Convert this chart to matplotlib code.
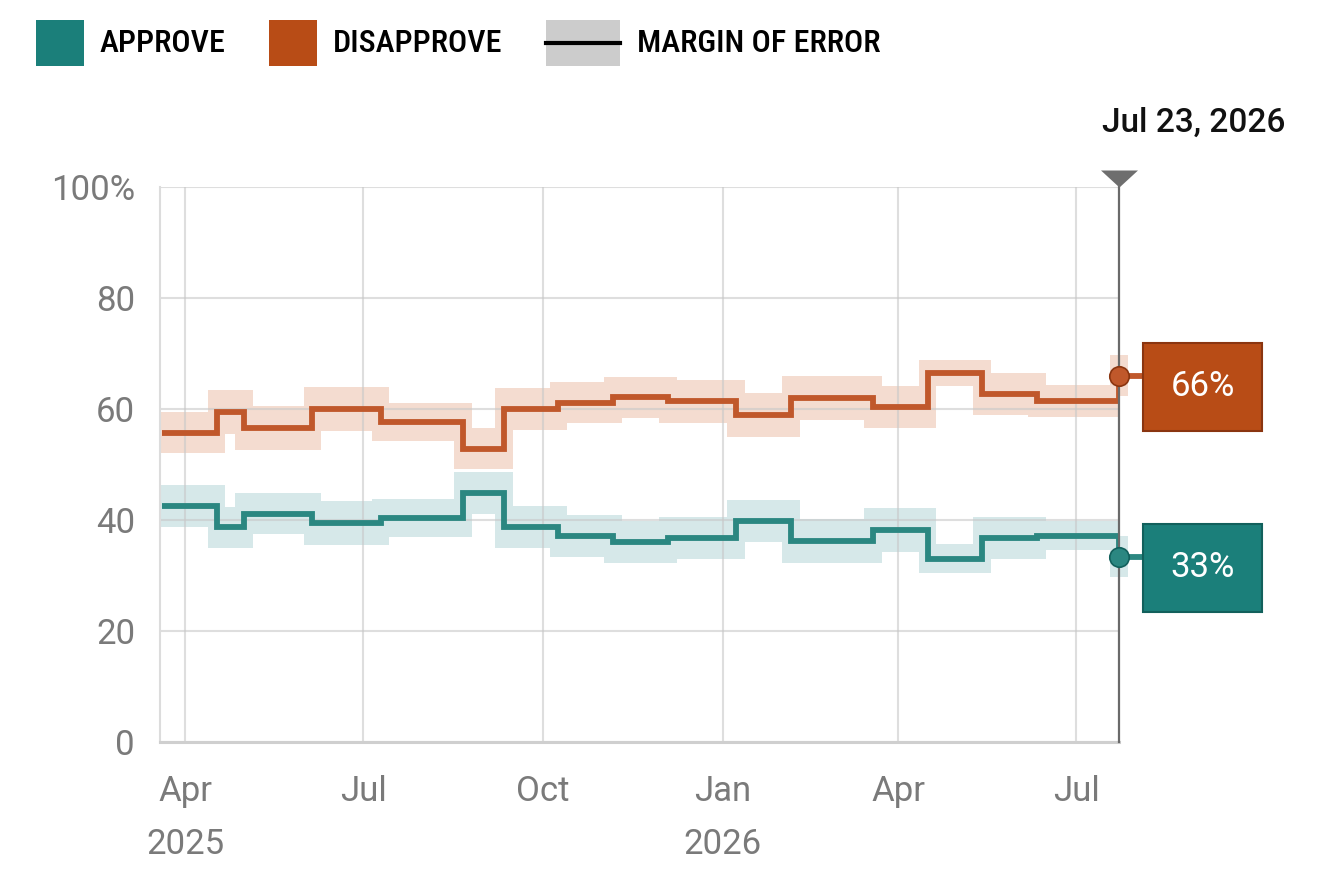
import matplotlib
matplotlib.use("Agg")
import matplotlib.pyplot as plt
import matplotlib.dates as mdates
import matplotlib.transforms as mtransforms
from matplotlib.patches import Rectangle
from matplotlib.lines import Line2D
from datetime import date, timedelta

# ---------------- data ----------------
poll_dates = [date(2025, 3, 20), date(2025, 4, 17), date(2025, 5, 1), date(2025, 6, 5),
              date(2025, 7, 10), date(2025, 8, 21), date(2025, 9, 11), date(2025, 10, 9),
              date(2025, 11, 6), date(2025, 12, 4), date(2026, 1, 8), date(2026, 2, 5),
              date(2026, 3, 19), date(2026, 4, 16), date(2026, 5, 14), date(2026, 6, 11),
              date(2026, 7, 23)]
approve = [42.5, 38.7, 41.1, 39.5, 40.4, 44.9, 38.7, 37.1, 36.1, 36.8, 39.8, 36.2,
           38.2, 33.0, 36.8, 37.2, 33.4]
disapprove = [55.7, 59.5, 56.6, 60.0, 57.7, 52.8, 60.0, 61.1, 62.1, 61.4, 58.9, 62.0,
              60.4, 66.5, 62.7, 61.4, 66.0]
approve_moe = [3.75, 3.7, 3.7, 4.0, 3.4, 3.8, 3.75, 3.75, 3.8, 3.8, 3.75, 4.0,
               3.9, 2.6, 3.75, 2.6, 3.7]
disapprove_moe = [3.7, 4.0, 4.0, 4.0, 3.4, 3.7, 3.8, 3.7, 3.75, 3.9, 3.95, 4.0,
                  3.75, 2.4, 3.75, 2.9, 3.7]

y_ticks = [0, 20, 40, 60, 80, 100]
y_tick_labels = ["0", "20", "40", "60", "80", "100%"]
x_ticks = [date(2025, 4, 1), date(2025, 7, 1), date(2025, 10, 1),
           date(2026, 1, 1), date(2026, 4, 1), date(2026, 7, 1)]
x_tick_labels = ["Apr\n2025", "Jul", "Oct", "Jan\n2026", "Apr", "Jul"]
legend_labels = ["APPROVE", "DISAPPROVE", "MARGIN OF ERROR"]
date_label = "Jul 23, 2026"
x_start = date(2025, 3, 19)

# ---------------- style ----------------
W, H = 1320, 892
TEAL_LINE = "#2b8781"
TEAL_BAND = "#d6e8e9"
TEAL_BOX = "#1b7f7a"
TEAL_EDGE = "#12605c"
ORANGE_LINE = "#c0582b"
ORANGE_BAND = "#f4dcd0"
ORANGE_BOX = "#b84c16"
ORANGE_EDGE = "#8a3510"
TICK_COLOR = "#7a7a7a"
TICK_FONT = ["Roboto", "DejaVu Sans"]
LEGEND_FONT = ["Roboto Condensed", "Liberation Sans Narrow", "Roboto", "DejaVu Sans"]
LINE_W = 4.2

fig = plt.figure(figsize=(W / 100, H / 100), dpi=100)
ax = fig.add_axes([160 / W, 150 / H, (1119 - 160) / W, 555 / H])

xd = mdates.date2num(poll_dates)
ax.set_xlim(mdates.date2num(x_start), xd[-1])
ax.set_ylim(0, 100)

pad_days = 4.5
n = len(xd)
for vals, moe, col in [(disapprove, disapprove_moe, ORANGE_BAND),
                       (approve, approve_moe, TEAL_BAND)]:
    for i in range(n):
        x0 = xd[i] - pad_days
        x1 = (xd[i + 1] if i < n - 1 else xd[i]) + pad_days
        ax.fill_between([x0, x1], vals[i] - moe[i], vals[i] + moe[i],
                        color=col, lw=0, zorder=1, clip_on=(i < n - 1))

for vals, col, edge in [(disapprove, ORANGE_LINE, ORANGE_EDGE),
                        (approve, TEAL_LINE, TEAL_EDGE)]:
    ax.step(xd, vals, where="post", color=col, lw=LINE_W, zorder=3,
            solid_joinstyle="miter", solid_capstyle="butt")
    ax.plot([xd[-1], xd[-1] + 14], [vals[-1], vals[-1]], color=col, lw=LINE_W,
            zorder=3, clip_on=False, solid_capstyle="butt")

# vertical marker
ax.plot([xd[-1], xd[-1]], [0, 100], color="#6a6a6a", lw=1.6, zorder=4, clip_on=False)
ax.plot([xd[-1]], [100], marker=[(-1, 0.92), (1, 0.92), (0, 0)], ms=26.6,
        color="#6e6e6e", mec="none", zorder=6, clip_on=False)

for vals, col, edge in [(disapprove, ORANGE_LINE, ORANGE_EDGE),
                        (approve, TEAL_LINE, TEAL_EDGE)]:
    ax.plot([xd[-1]], [vals[-1]], "o", ms=14, mfc=col, mec=edge, mew=1.2,
            zorder=7, clip_on=False)

# grid / axes
ax.set_yticks(y_ticks)
ax.set_yticklabels(y_tick_labels, fontfamily=TICK_FONT, fontweight="normal")
ax.set_xticks(mdates.date2num(x_ticks))
ax.set_xticklabels(x_tick_labels, fontfamily=TICK_FONT, fontweight="normal")
for lab in ax.get_xticklabels():
    lab.set_linespacing(1.75)
ax.grid(True, color="#c8c8c8", alpha=0.6, lw=1.5)
ax.set_axisbelow("line")
ax.tick_params(length=0, labelsize=25, labelcolor=TICK_COLOR)
ax.tick_params(axis="x", pad=24)
ax.tick_params(axis="y", pad=18)
for s in ["top", "right"]:
    ax.spines[s].set_visible(False)
ax.spines["left"].set_color("#dcdcdc")
ax.spines["left"].set_linewidth(1.5)
ax.spines["bottom"].set_color("#cfcfcf")
ax.spines["bottom"].set_linewidth(2.2)

# value boxes
px_per_unit = ax.get_position().height * H / 100.0
blend = mtransforms.blended_transform_factory(fig.transFigure, ax.transData)
box_trans = mtransforms.offset_copy(blend, fig=fig, x=0, y=-11, units="dots")
box_h = 88 / px_per_unit
for vals, fc, ec in [(disapprove, ORANGE_BOX, ORANGE_EDGE),
                     (approve, TEAL_BOX, TEAL_EDGE)]:
    v = vals[-1]
    ax.add_patch(Rectangle((1143 / W, v - box_h / 2), 119 / W, box_h,
                           transform=box_trans, fc=fc, ec=ec, lw=1.5,
                           zorder=8, clip_on=False))
    ax.text(1202.5 / W, v, f"{round(v)}%", transform=box_trans, ha="center",
            va="center", color="white", fontsize=25, fontfamily=TICK_FONT,
            fontweight="normal", zorder=9, clip_on=False)

# date label
fig.text(1194 / W, 1 - 123 / H, date_label, ha="center", va="center",
         fontsize=24, fontfamily=TICK_FONT, fontweight="medium", color="#111111")

# legend
def fig_rect(x0, y0, x1, y1, color):
    fig.add_artist(Rectangle((x0 / W, 1 - y1 / H), (x1 - x0) / W, (y1 - y0) / H,
                             transform=fig.transFigure, fc=color, ec="none"))

fig_rect(36, 20, 84, 66, TEAL_BOX)
fig_rect(269, 20, 317, 66, ORANGE_BOX)
fig_rect(546, 20, 620, 66, "#cccccc")
fig.add_artist(Line2D([546 / W, 620 / W], [1 - 43 / H, 1 - 43 / H],
                      transform=fig.transFigure, color="black", lw=3))
for xpos, lab in zip([100, 333, 637], legend_labels):
    fig.text(xpos / W, 1 - 44 / H, lab, ha="left", va="center", fontsize=23,
             fontfamily=LEGEND_FONT, fontstretch="condensed", fontweight="medium",
             color="#000000")

fig.savefig("out.png", dpi=100)
